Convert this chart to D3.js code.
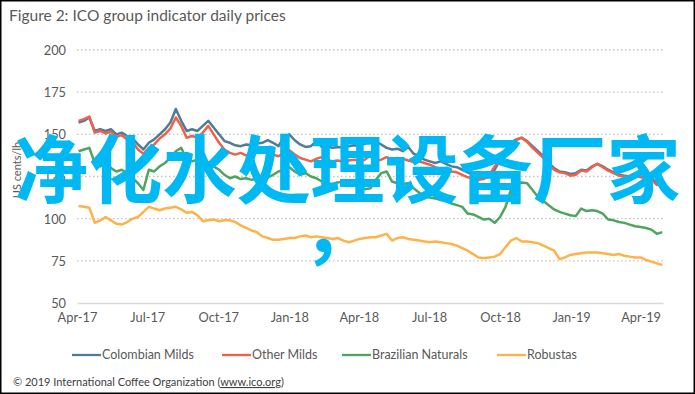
<!DOCTYPE html>
<html>
<head>
<meta charset="utf-8">
<script src="https://cdn.jsdelivr.net/npm/d3@7"></script>
<style>
html,body{margin:0;padding:0;background:#fff;}
svg{display:block;}
</style>
</head>
<body>
<svg id="chart" width="695" height="394"></svg>
<script>
// ---------- DATA ----------
const title = "Figure 2: ICO group indicator daily prices";
const yTitle = "US cents/lb";
const yTicks = [50, 75, 100, 125, 150, 175, 200];
const xTickLabels = ["Apr-17","Jul-17","Oct-17","Jan-18","Apr-18","Jul-18","Oct-18","Jan-19","Apr-19"];
const seriesNames = ["Colombian Milds","Other Milds","Brazilian Naturals","Robustas"];
const firstWeek = "2017-04-03"; // weekly observations (Mondays)

const colombianMilds = [157,158,160,152,153,152,153,150,151,149,147.5,144,141,145,147,150,153,157,165,158,
152,153,152,155,158,154,150,146,145,143.5,143,144,143.5,144.5,145,146.5,145,143,148.5,150,
146.5,144,142.5,143,146,142.5,143,142,142.5,142,143,143.5,143,144.5,145,145.5,144,142,141,141.5,
140,142.5,138.5,137,135,134,133,134,132.5,131,130.5,129,127.5,126,125,124,125,129,135,141,
145,147,148,146,143,140,137,133,130,128,127.5,126.5,127,129,128.5,131,132.5,131,129,127.5,
126,125.5,125,126,125,124.5,124,121,122];
const otherMilds = [158,159,160.5,151,152,150.5,151.5,148.5,149.5,147,145.5,141,138.5,142,144,147.5,150,153.5,160,155,
148,149,148,151,155,150,145,141,139,138,139,137.5,138.5,139,140,141.5,138,137,139,140.5,
138,136,135,134,135.5,136.5,135,134,134.5,133.5,134.5,135,134,135,137.5,134,135,136.5,135,136,
135.5,134.5,133.5,134,133,132,130.5,129.5,129,128,127.5,126,124.5,124,123,123.5,126,131,135,140.5,
144,146.5,148,145.5,142,139,136,132,129,127.5,127,125.5,126,128.5,128,130.5,132.5,130.5,128.5,127,
125.5,125,124.5,125.5,124.5,124,123,120,121];
const brazilianNaturals = [140,141,142,133,131,133,130,128,129,127,124,121,117,129,128,131,133,136,140,142,
135,134,135,136,133,131,129,126,124,125,123.5,124,123,124,123,124.5,126,128,129,130.5,
128,126,127,125,124,122,121,120.5,121.5,122,121,120,119,117.5,118,123,127,128,122,121,
120.5,121,118,115.5,113,112.5,112,111,110.5,109,108,107,103,102.5,101,99.5,100,97.5,101,107,
117,120,121.5,121,117,113,110.5,108,105.5,104,103,102,101.5,106,104.5,105,104.5,103,99.5,99,
98,97.5,96.5,95.5,95,94.5,93.5,91,92];
const robustas = [107.5,107,106.5,97.5,99,101,99,97,96.5,98,100,101,104,107,106,105,106,106.5,107,105.5,
103.5,104,102,98.5,99,99.5,98.5,99,99,98,96,94.5,93,92,89.5,88.5,87.5,87.5,88,88.5,
88.5,89.5,90,89,89.5,89,88.5,88,88.5,87,86,87,88,88.5,89,89,90,91,87,88.5,
89,88,87.5,87,86.5,86,86.5,86,85.5,85,84,82.5,81,79,77,76.5,77,77.5,79,83,
87,88.5,86.5,86.5,86,85.5,84,82.5,81,76,77,78.5,79,79.5,80,80,80,79.5,79,78.5,
79,78,77.5,77,77,75.5,74.5,73.5,72.5];
const seriesColors = ["#4f7b96","#f0604b","#4fa45e","#fdb34a"];
const watermark = "净化水处理设备厂家";
const watermark2 = "，";
const credit = "© 2019 International Coffee Organization (";
const creditLink = "www.ico.org";

// ---------- CHART ----------
const W = 695, H = 394;
const svg = d3.select("#chart");
const font = "Lato, 'Open Sans', sans-serif";
const grey = "#595959";

svg.append("rect").attr("x",0.75).attr("y",0.75).attr("width",W-1.5).attr("height",H-1.5)
  .attr("fill","#fff").attr("stroke","#000").attr("stroke-width",1.5);

const defs = svg.append("defs");
defs.append("filter").attr("id","soft").append("feGaussianBlur").attr("stdDeviation",0.4);

svg.append("text").attr("x",9).attr("y",21).attr("font-family",font).attr("font-size",15.5)
  .attr("fill",grey).text(title);

const x = d3.scaleTime().domain([new Date(2017,3,1), new Date(2019,3,30)]).range([77, 663]);
const y = d3.scaleLinear().domain([50, 200]).range([303, 50]);

// grid
const gridG = svg.append("g");
gridG.selectAll("line").data(yTicks.filter(d => d !== 50)).join("line")
  .attr("x1",77).attr("x2",663).attr("y1",d=>y(d)).attr("y2",d=>y(d))
  .attr("stroke","#c4c4c4").attr("stroke-width",1.3).attr("stroke-dasharray","1.5,2.5");

// y axis
const yAxis = d3.axisLeft(y).tickValues(yTicks).tickSize(0).tickPadding(0);
const yG = svg.append("g").attr("transform","translate(66,0)").call(yAxis);
yG.select(".domain").remove();
yG.selectAll("text").attr("font-family",font).attr("font-size",12.8).attr("fill",grey).attr("dy","0.35em");

// x axis (baseline)
const xTickDates = xTickLabels.map(s => d3.timeParse("%b-%y")(s));
const xAxis = d3.axisBottom(x).tickValues(xTickDates).tickFormat(d3.timeFormat("%b-%y")).tickSize(0).tickPadding(0);
const xG = svg.append("g").attr("transform","translate(0,"+y(50)+")").call(xAxis);
xG.select(".domain").attr("stroke","#d9d9d9").attr("stroke-width",1.5);
xG.selectAll("text").attr("font-family",font).attr("font-size",12.8).attr("fill",grey).attr("dy","1.45em");

// y title
svg.append("text").attr("transform","translate(21,170) rotate(-90)").attr("text-anchor","middle")
  .attr("font-family",font).attr("font-size",11).attr("fill",grey).text(yTitle);

// series
const start = d3.timeParse("%Y-%m-%d")(firstWeek);
const dates = colombianMilds.map((_, i) => d3.timeDay.offset(start, 7*i));
const allSeries = [colombianMilds, otherMilds, brazilianNaturals, robustas];
const line = d3.line().x((d,i)=>x(dates[i])).y(d=>y(d)).curve(d3.curveLinear);
svg.append("g").selectAll("path").data(allSeries).join("path")
  .attr("d", d => line(d)).attr("fill","none")
  .attr("stroke",(d,i)=>seriesColors[i]).attr("stroke-width",2.5)
  .attr("stroke-linejoin","round").attr("filter","url(#soft)");

// legend
const legendX = [72, 222, 342, 497];
const lg = svg.append("g").selectAll("g").data(seriesNames).join("g")
  .attr("transform",(d,i)=>"translate("+legendX[i]+",355)");
lg.append("line").attr("x1",0).attr("x2",29).attr("y1",0).attr("y2",0)
  .attr("stroke",(d,i)=>seriesColors[i]).attr("stroke-width",2.3);
lg.append("text").attr("x",30).attr("y",0).attr("dy","0.35em").attr("font-family",font)
  .attr("font-size",12.5).attr("fill",grey).text(d=>d);

// credit
const ct = svg.append("text").attr("x",13).attr("y",386).attr("font-family",font)
  .attr("font-size",11).attr("fill","#404040");
ct.append("tspan").text(credit);
ct.append("tspan").attr("text-decoration","underline").text(creditLink);
ct.append("tspan").text(")");

// overlay text
const wm = svg.append("text").attr("x",W/2).attr("text-anchor","middle")
  .attr("font-family","'Noto Sans CJK SC', sans-serif").attr("font-weight","bold")
  .attr("font-size",74).attr("fill","#00b8f2");
wm.append("tspan").attr("x",W/2).attr("y",197).text(watermark);
wm.append("tspan").attr("x",W/2 - 8).attr("y",256).text(watermark2);
</script>
</body>
</html>
